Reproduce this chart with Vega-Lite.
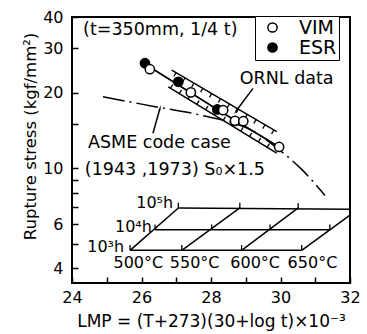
{
  "$schema": "https://vega.github.io/schema/vega-lite/v6.json",
  "width": 278,
  "height": 266,
  "autosize": "none",
  "padding": {"left": 72, "top": 17, "right": 17, "bottom": 51},
  "background": "white",
  "config": {
    "view": {"stroke": "black", "strokeWidth": 2},
    "font": "DejaVu Sans",
    "axis": {
      "domain": false,
      "grid": false,
      "tickColor": "black",
      "tickWidth": 1.5,
      "labelFont": "DejaVu Sans",
      "labelFontSize": 16,
      "labelColor": "black",
      "labelOverlap": false,
      "titleFont": "DejaVu Sans",
      "titleFontWeight": "normal",
      "titleColor": "black"
    }
  },
  "datasets": {
    "nomo": [
      {"seg": "1e3h", "lmp": 25.67, "stress": 4.72}, {"seg": "1e3h", "lmp": 30.61, "stress": 4.72},
      {"seg": "1e4h", "lmp": 26.39, "stress": 5.7}, {"seg": "1e4h", "lmp": 31.42, "stress": 5.7},
      {"seg": "1e5h", "lmp": 27.06, "stress": 6.96}, {"seg": "1e5h", "lmp": 32, "stress": 6.88},
      {"seg": "500C", "lmp": 25.67, "stress": 4.72}, {"seg": "500C", "lmp": 27.06, "stress": 6.96},
      {"seg": "550C", "lmp": 27.16, "stress": 4.72}, {"seg": "550C", "lmp": 28.83, "stress": 6.96},
      {"seg": "600C", "lmp": 28.88, "stress": 4.72}, {"seg": "600C", "lmp": 30.51, "stress": 6.96},
      {"seg": "650C", "lmp": 30.61, "stress": 4.72}, {"seg": "650C", "lmp": 32, "stress": 6.52}
    ],
    "nomoTicks": [
      {"lmp": 25.67, "stress": 4.72}, {"lmp": 27.16, "stress": 4.72}, {"lmp": 28.88, "stress": 4.72}, {"lmp": 30.61, "stress": 4.72},
      {"lmp": 26.39, "stress": 5.7}, {"lmp": 28.02, "stress": 5.7}, {"lmp": 29.7, "stress": 5.7}, {"lmp": 31.42, "stress": 5.7},
      {"lmp": 27.06, "stress": 6.96}, {"lmp": 28.83, "stress": 6.95}, {"lmp": 30.51, "stress": 6.93}
    ],
    "asme": [
      {"lmp": 24.89, "stress": 19.25}, {"lmp": 26.39, "stress": 17.6}, {"lmp": 27.68, "stress": 16.3},
      {"lmp": 29.31, "stress": 13.8}, {"lmp": 30.08, "stress": 11.5}, {"lmp": 30.58, "stress": 10.0},
      {"lmp": 31.28, "stress": 7.8}
    ],
    "ornl": [
      {"band": "upper", "lmp": 26.87, "stress": 24.6}, {"band": "upper", "lmp": 29.89, "stress": 14.0},
      {"band": "lower", "lmp": 26.77, "stress": 21.1}, {"band": "lower", "lmp": 29.89, "stress": 11.5}
    ],
    "ornlHatch": [
      {"band": "upper", "lmp": 26.95, "stress": 23.7}, {"band": "upper", "lmp": 29.8, "stress": 13.9},
      {"band": "lower", "lmp": 26.85, "stress": 21.25}, {"band": "lower", "lmp": 29.8, "stress": 11.97}
    ],
    "fit": [
      {"lmp": 26.1, "stress": 26.0}, {"lmp": 28.25, "stress": 16.9}, {"lmp": 29.95, "stress": 12.2}
    ],
    "arrows": [
      {"target": "ORNL", "lmp": 29.21, "stress": 20.8, "lmp2": 28.72, "stress2": 16.9},
      {"target": "ASME", "lmp": 26.33, "stress": 13.8, "lmp2": 26.53, "stress2": 17.3}
    ],
    "points": [
      {"series": "ESR", "lmp": 26.1, "stress": 26.2},
      {"series": "ESR", "lmp": 27.06, "stress": 22.1},
      {"series": "ESR", "lmp": 28.18, "stress": 17.15},
      {"series": "VIM", "lmp": 26.24, "stress": 24.8},
      {"series": "VIM", "lmp": 27.42, "stress": 20.05},
      {"series": "VIM", "lmp": 28.35, "stress": 17.04},
      {"series": "VIM", "lmp": 28.69, "stress": 15.45},
      {"series": "VIM", "lmp": 28.93, "stress": 15.4},
      {"series": "VIM", "lmp": 29.96, "stress": 12.17}
    ],
    "notes": [
      {"label": "(t=350mm, 1/4 t)", "lmp": 24.32, "stress": 35.5},
      {"label": "ASME code case", "lmp": 24.46, "stress": 12.6},
      {"label": "(1943 ,1973) S₀×1.5", "lmp": 24.37, "stress": 9.83},
      {"label": "ORNL data", "lmp": 28.83, "stress": 22.65}
    ],
    "hours": [
      {"label": "10⁵h", "lmp": 26.91, "stress": 7.26},
      {"label": "10⁴h", "lmp": 26.3, "stress": 5.82},
      {"label": "10³h", "lmp": 25.5, "stress": 4.85}
    ],
    "temps": [
      {"label": "500°C", "lmp": 25.91, "stress": 4.19},
      {"label": "550°C", "lmp": 27.53, "stress": 4.19},
      {"label": "600°C", "lmp": 29.27, "stress": 4.19},
      {"label": "650°C", "lmp": 30.92, "stress": 4.19}
    ]
  },
  "encoding": {
    "x": {
      "field": "lmp",
      "type": "quantitative",
      "scale": {"domain": [24, 32], "nice": false, "zero": false},
      "axis": {
        "values": [24, 25, 26, 27, 28, 29, 30, 31, 32],
        "labelExpr": "datum.value % 2 == 0 ? datum.label : ''",
        "labelFlush": false,
        "tickSize": -6,
        "labelPadding": 12,
        "title": "LMP = (T+273)(30+log t)×10⁻³",
        "titleFontSize": 17,
        "titlePadding": 8
      }
    },
    "y": {
      "field": "stress",
      "type": "quantitative",
      "scale": {"type": "log", "domain": [3.5, 40], "nice": false},
      "axis": {
        "values": [4, 5, 6, 7, 8, 9, 10, 15, 20, 30, 40],
        "labelExpr": "indexof([4, 6, 10, 20, 30, 40], datum.value) >= 0 ? datum.label : ''",
        "tickSize": -6,
        "labelPadding": 15,
        "title": "Rupture stress (kgf/mm²)",
        "titleFontSize": 16.5,
        "titlePadding": 4,
        "titleY": 119
      }
    }
  },
  "layer": [
    {
      "data": {"name": "nomo"},
      "mark": {"type": "line", "color": "black", "strokeWidth": 1.5},
      "encoding": {"detail": {"field": "seg"}}
    },
    {
      "data": {"name": "nomoTicks"},
      "mark": {"type": "point", "shape": "M0,-1L0,0", "size": 110, "filled": false, "stroke": "black", "strokeWidth": 1.3, "opacity": 1}
    },
    {
      "data": {"name": "asme"},
      "mark": {"type": "line", "color": "black", "strokeWidth": 1.5, "interpolate": "monotone", "strokeDash": [22, 5, 2, 5]}
    },
    {
      "data": {"name": "ornl"},
      "mark": {"type": "line", "color": "black", "strokeWidth": 1.5},
      "encoding": {"detail": {"field": "band"}}
    },
    {
      "data": {"name": "ornlHatch"},
      "mark": {"type": "line", "color": "black", "strokeWidth": 4.5, "strokeDash": [1.3, 9], "strokeCap": "butt"},
      "encoding": {"detail": {"field": "band"}}
    },
    {
      "data": {"name": "fit"},
      "mark": {"type": "line", "color": "black", "strokeWidth": 1.8}
    },
    {
      "data": {"name": "arrows"},
      "mark": {"type": "rule", "color": "black", "strokeWidth": 1.5},
      "encoding": {"x2": {"field": "lmp2"}, "y2": {"field": "stress2"}}
    },
    {
      "data": {"name": "arrows"},
      "mark": {"type": "point", "shape": "wedge", "size": 45, "filled": true, "color": "black", "opacity": 1},
      "encoding": {
        "x": {"field": "lmp2", "type": "quantitative"},
        "y": {"field": "stress2", "type": "quantitative"},
        "angle": {"condition": {"test": "datum.target == 'ORNL'", "value": 216}, "value": 16}
      }
    },
    {
      "data": {"name": "points"},
      "mark": {"type": "point", "shape": "circle", "size": 85, "filled": true, "stroke": "black", "strokeWidth": 1.5, "opacity": 1},
      "encoding": {
        "fill": {
          "field": "series",
          "type": "nominal",
          "scale": {"domain": ["VIM", "ESR"], "range": ["white", "black"]},
          "legend": {
            "orient": "none",
            "legendX": 183,
            "legendY": -1,
            "title": null,
            "strokeColor": "black",
            "fillColor": "white",
            "padding": 2,
            "labelFont": "DejaVu Sans",
            "labelFontSize": 19,
            "labelColor": "black",
            "labelExpr": "datum.label + '\u2002\u2002\u2009'",
            "labelOffset": 17,
            "symbolOffset": 6,
            "symbolType": "circle",
            "symbolSize": 85,
            "symbolStrokeColor": "black",
            "symbolStrokeWidth": 1.5,
            "rowPadding": 0,
            "encode": {"legend": {"update": {"stroke": {"value": "black"}, "strokeWidth": {"value": 1.5}}}}
          }
        }
      }
    },
    {
      "data": {"name": "notes"},
      "mark": {"type": "text", "align": "left", "baseline": "middle", "fontSize": 17.5, "font": "DejaVu Sans", "color": "black"},
      "encoding": {"text": {"field": "label"}}
    },
    {
      "data": {"name": "hours"},
      "mark": {"type": "text", "align": "right", "baseline": "middle", "fontSize": 16, "font": "DejaVu Sans", "color": "black"},
      "encoding": {"text": {"field": "label"}}
    },
    {
      "data": {"name": "temps"},
      "mark": {"type": "text", "align": "center", "baseline": "middle", "fontSize": 16, "font": "DejaVu Sans", "color": "black"},
      "encoding": {"text": {"field": "label"}}
    }
  ]
}
